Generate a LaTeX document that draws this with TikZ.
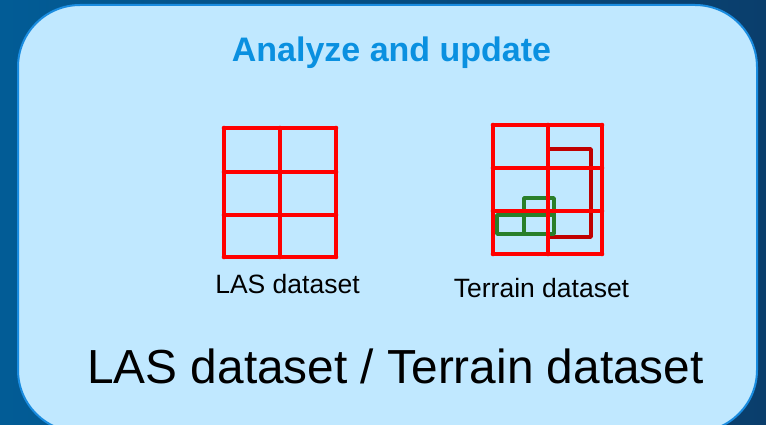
\documentclass[tikz,border=0pt]{standalone}
\usepackage{fontspec}
\setmainfont{Liberation Sans}
\usetikzlibrary{positioning}
\definecolor{bgdark}{HTML}{0A3E6C}
\definecolor{bglight}{HTML}{025C96}
\definecolor{panelfill}{HTML}{C0E8FF}
\definecolor{paneledge}{HTML}{1A8CE0}
\definecolor{ttlblue}{HTML}{0A90E0}
\definecolor{gridred}{HTML}{FF0000}
\definecolor{tinred}{HTML}{C00000}
\definecolor{tingreen}{HTML}{2A7F2A}
\tikzset{
  panel/.style={fill=panelfill, draw=paneledge, line width=2pt, rounded corners=62pt},
  gridline/.style={draw=gridred, line width=4.6pt, line join=round, line cap=round},
  tileline/.style={draw=#1, line width=3.6pt, line join=round},
  lbl/.style={font=\fontsize{26.5}{31}\selectfont, anchor=base, inner sep=0pt},
  bigtxt/.style={font=\fontsize{47.8}{57}\selectfont, anchor=base, inner sep=0pt}
}
\begin{document}
\begin{tikzpicture}[x=1pt,y=-1pt]
  \useasboundingbox (0,0) rectangle (766,425);
  \shade[left color=bglight, right color=bgdark] (0,0) rectangle (766,425);
  \begin{scope}
    \clip (0,0) rectangle (766,425);
    \draw[panel] (18,5) rectangle (757,432);
  \end{scope}
  % title
  \node[font=\fontsize{34}{40}\selectfont\bfseries, text=ttlblue, anchor=base, inner sep=0pt] (title) at (391.5,62) {Analyze and update};
  % LAS dataset grid
  \foreach \x in {224,280,336} \draw[gridline] (\x,128) -- (\x,257);
  \foreach \y in {128,172,215,257} \draw[gridline] (224,\y) -- (336,\y);
  \node[lbl] (laslbl) at (287.5,293) {LAS dataset};
  % Terrain dataset grid with tiles
  \draw[tileline=tinred] (548,149) rectangle (591,237);
  \draw[tileline=tingreen] (497,215) rectangle (554,234);
  \draw[tileline=tingreen] (524,234) -- (524,198) -- (554,198) -- (554,215);
  \foreach \x in {493,548,602} \draw[gridline] (\x,125) -- (\x,254);
  \foreach \y in {125,168,211,254} \draw[gridline] (493,\y) -- (602,\y);
  \node[lbl] (terlbl) at (541.5,297) {Terrain dataset};
  % caption
  \node[bigtxt] (caption) at (395.5,383) {LAS dataset / Terrain dataset};
\end{tikzpicture}
\end{document}
